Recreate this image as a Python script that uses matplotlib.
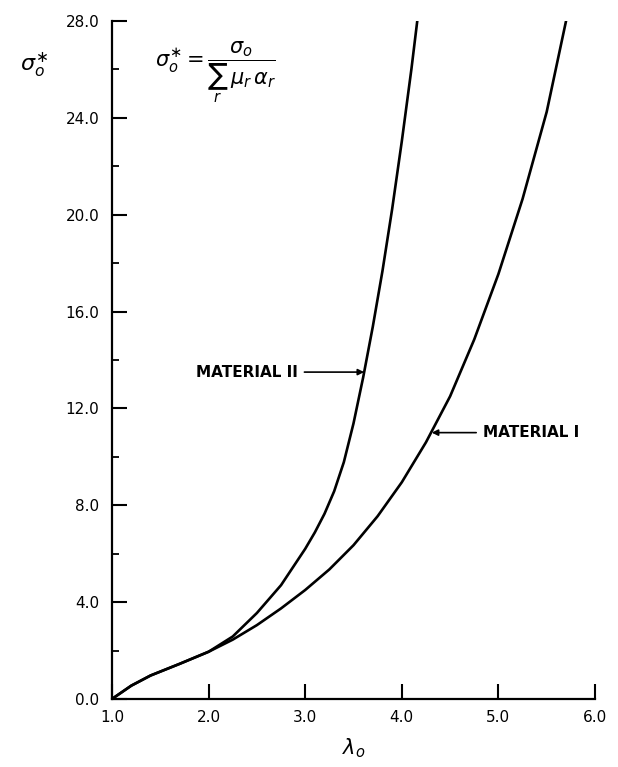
import matplotlib.pyplot as plt
import numpy as np

# Curves (lambda_0, sigma_0*), hand-smoothed readings
mat2_x = [1.0, 1.2, 1.4, 1.7, 2.0, 2.25, 2.5, 2.75, 3.0, 3.1, 3.2, 3.3, 3.4, 3.5,
          3.6, 3.7, 3.8, 3.9, 4.0, 4.1, 4.16]
mat2_y = [0.0, 0.55, 0.97, 1.45, 1.95, 2.58, 3.55, 4.70, 6.20, 6.88, 7.65, 8.58, 9.78, 11.38,
          13.28, 15.38, 17.68, 20.23, 23.03, 26.03, 28.0]

mat1_x = [1.0, 1.2, 1.4, 1.7, 2.0, 2.25, 2.5, 2.75, 3.0, 3.25, 3.5, 3.75, 4.0, 4.25,
          4.5, 4.75, 5.0, 5.25, 5.5, 5.70]
mat1_y = [0.0, 0.55, 0.97, 1.45, 1.95, 2.45, 3.05, 3.74, 4.50, 5.35, 6.35, 7.55, 8.95, 10.6,
          12.5, 14.85, 17.55, 20.65, 24.25, 28.0]

xticks = [1.0, 2.0, 3.0, 4.0, 5.0, 6.0]
yticks = [0.0, 4.0, 8.0, 12.0, 16.0, 20.0, 24.0, 28.0]

# label anchor points on the curves
mat2_tip = (3.61, 13.5)
mat1_tip = (4.31, 11.0)

plt.rcParams['font.family'] = ['DejaVu Sans']

fig = plt.figure(figsize=(6.18, 7.67), dpi=100)
ax = fig.add_axes([0.1812, 0.0887, 0.7816, 0.8839])

ax.plot(mat2_x, mat2_y, color='black', lw=1.9, solid_joinstyle='round')
ax.plot(mat1_x, mat1_y, color='black', lw=1.9, solid_joinstyle='round')

ax.set_xlim(1.0, 6.0)
ax.set_ylim(0.0, 28.0)
ax.spines['top'].set_visible(False)
ax.spines['right'].set_visible(False)
ax.spines['left'].set_linewidth(1.6)
ax.spines['bottom'].set_linewidth(1.6)

ax.set_xticks(xticks)
ax.set_xticklabels(['%.1f' % v for v in xticks])
ax.set_yticks(yticks)
ax.set_yticklabels(['%.1f' % v for v in yticks])
ax.set_yticks(np.arange(2.0, 28.0, 4.0), minor=True)
ax.tick_params(axis='both', which='major', direction='in', length=11, width=1.5,
               labelsize=11, pad=9)
ax.tick_params(axis='y', which='minor', direction='in', length=5, width=1.3)
ax.tick_params(axis='x', which='major', pad=8)

ax.set_xlabel(r'$\lambda_o$', fontsize=15, labelpad=8)
ax.text(-0.19, 0.935, r'$\sigma_o^{\ast}$', transform=ax.transAxes,
        fontsize=16, ha='left', va='center')
ax.text(0.09, 0.925, r'$\sigma_o^{\ast}= \dfrac{\sigma_o}{\sum_r\,\mu_r\,\alpha_r}$',
        transform=ax.transAxes, fontsize=15, ha='left', va='center')

ax.annotate('MATERIAL II', xy=mat2_tip, xytext=(-48, 0), textcoords='offset points',
            fontsize=11, fontweight='bold', ha='right', va='center',
            arrowprops=dict(arrowstyle='-|>', color='black', lw=1.2,
                            shrinkA=3, shrinkB=0, mutation_scale=9))
ax.annotate('MATERIAL I', xy=mat1_tip, xytext=(37, 0), textcoords='offset points',
            fontsize=11, fontweight='bold', ha='left', va='center',
            arrowprops=dict(arrowstyle='-|>', color='black', lw=1.2,
                            shrinkA=3, shrinkB=0, mutation_scale=9))

fig.savefig('out.png', dpi=100)
